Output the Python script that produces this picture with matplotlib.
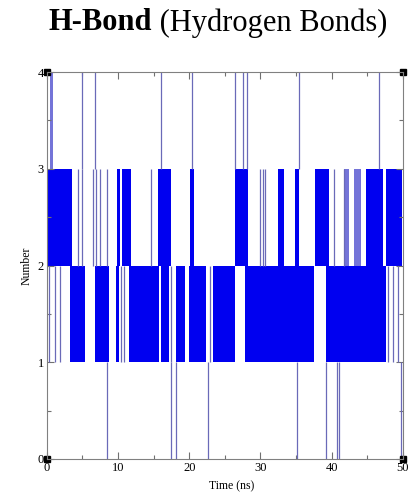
import matplotlib
matplotlib.use("Agg")
import matplotlib.pyplot as plt
from matplotlib.ticker import MultipleLocator

# Hydrogen-bond count over a 50 ns trajectory.
# Dense switching between two neighbouring counts is stored as intervals (ns).
upper_start = [0.1, 9.9, 10.6, 15.6, 20.1, 26.4, 32.5, 34.9, 37.6, 44.9, 47.6]
upper_end   = [3.6, 10.3, 11.8, 17.4, 20.7, 28.2, 33.3, 35.4, 39.7, 47.2, 49.9]
upper_pale_start = [41.8, 43.1]
upper_pale_end   = [42.5, 44.2]

lower_start = [3.2, 6.7, 9.7, 11.5, 16.0, 18.1, 19.9, 23.3, 27.9, 39.2]
lower_end   = [5.4, 8.75, 10.1, 15.7, 17.1, 19.4, 22.4, 26.4, 37.5, 47.6]

# Isolated short switches (ns)
upper_flicks = [4.4, 4.9, 6.5, 6.9, 7.4, 8.5, 14.6, 29.9, 30.3, 30.7, 40.4, 41.7]
lower_flicks = [0.3, 1.1, 1.9, 10.4, 10.8, 17.5, 22.9, 47.9, 48.6, 49.3]
four_bond_start, four_bond_end = 0.4, 0.8
four_bond_flicks = [4.9, 6.8, 16.1, 20.4, 26.5, 27.5, 28.1, 35.4, 46.7]
zero_bond_flicks = [8.5, 17.4, 18.1, 22.6, 35.1, 39.2, 40.7, 41.1, 49.7]

x_ticks = [0, 10, 20, 30, 40, 50]
y_ticks = [0, 1, 2, 3, 4]

BLUE = "#0000f0"
PALE = "#7474d8"
THIN = "#6a6ab8"

fig = plt.figure(figsize=(4.11, 4.96), dpi=100)
ax = fig.add_axes([0.114, 0.0746, 0.866, 0.780])

def widths(s, e):
    return [b - a for a, b in zip(s, e)]

ax.bar(upper_start, 1, width=widths(upper_start, upper_end), bottom=2,
       align="edge", color=BLUE, linewidth=0)
ax.bar(upper_pale_start, 1, width=widths(upper_pale_start, upper_pale_end),
       bottom=2, align="edge", color=PALE, linewidth=0)
ax.bar(lower_start, 1, width=widths(lower_start, lower_end), bottom=1,
       align="edge", color=BLUE, linewidth=0)
ax.bar([four_bond_start], 1, width=[four_bond_end - four_bond_start], bottom=3,
       align="edge", color=PALE, linewidth=0)

ax.vlines(upper_flicks, 2, 3, color=THIN, linewidth=0.9)
ax.vlines(lower_flicks, 1, 2, color=THIN, linewidth=0.9)
ax.vlines(four_bond_flicks, 3, 4, color=THIN, linewidth=0.9)
ax.vlines(zero_bond_flicks, 0, 1, color=THIN, linewidth=0.9)

ax.set_xlim(x_ticks[0], x_ticks[-1])
ax.set_ylim(y_ticks[0], y_ticks[-1])
ax.set_xticks(x_ticks)
ax.set_yticks(y_ticks)
ax.xaxis.set_minor_locator(MultipleLocator(5))
ax.yaxis.set_minor_locator(MultipleLocator(0.5))
ax.tick_params(which="both", direction="in", top=True, right=True,
               color="#707070", width=0.8)
ax.tick_params(which="major", length=5, labelsize=9, pad=2)
ax.tick_params(which="minor", length=3)
for lab in ax.get_xticklabels() + ax.get_yticklabels():
    lab.set_fontfamily("Liberation Serif")
for sp in ax.spines.values():
    sp.set_color("#808080")
    sp.set_linewidth(0.8)

# corner markers of the frame
ax.plot([0, 0, 1, 1], [0, 1, 1, 0], "s", color="black", ms=4.5,
        transform=ax.transAxes, clip_on=False)

ax.set_xlabel("Time (ns)", fontfamily="Liberation Serif", fontsize=8.5, labelpad=1)
ax.set_ylabel("Number", fontfamily="Liberation Serif", fontsize=8.5, labelpad=4)
ax.xaxis.set_label_coords(0.52, -0.055)

t1 = fig.text(48 / 411, 1 - 23 / 496, "H-Bond", fontfamily="Liberation Serif",
              fontweight="bold", fontsize=22, va="center", ha="left")
ax.annotate(" (Hydrogen Bonds)", xy=(1, 0.5), xycoords=t1, va="center", ha="left",
            fontfamily="Liberation Serif", fontsize=22, annotation_clip=False)

fig.savefig("out.png", dpi=100)
